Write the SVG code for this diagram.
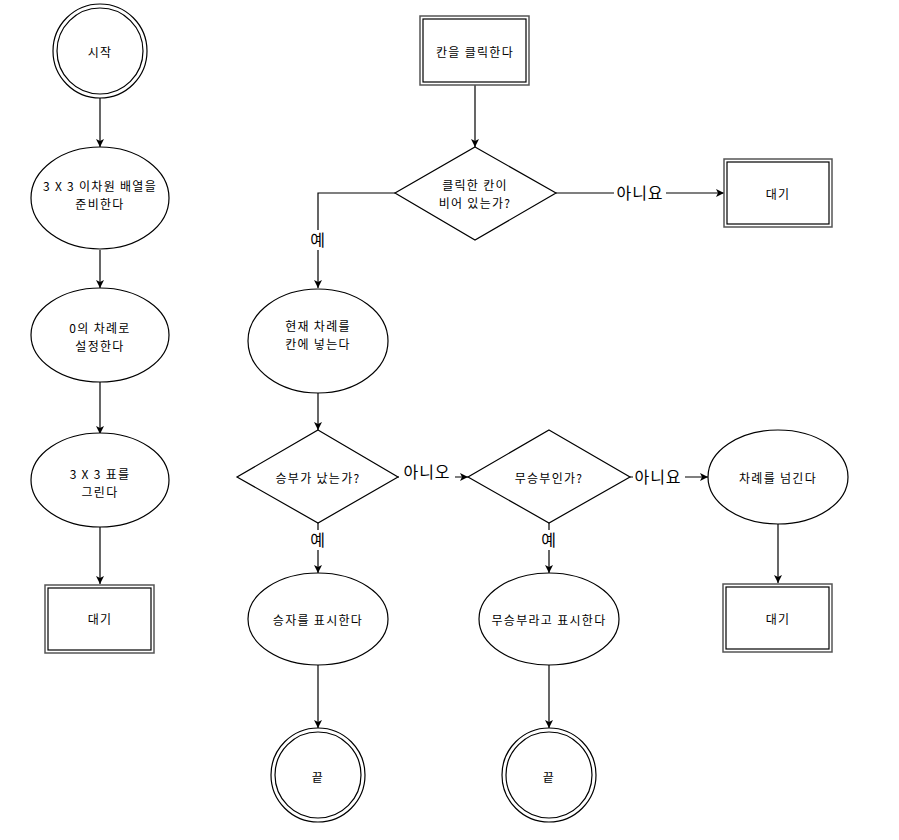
<svg xmlns="http://www.w3.org/2000/svg" width="899" height="840" viewBox="0 0 899 840">
<defs>
<style>
.n{fill:#fff;stroke:#000;stroke-width:1.2}
.o{fill:#fff;stroke:#555;stroke-width:1.5}
.e{fill:none;stroke:#000;stroke-width:1.2;marker-end:url(#ah)}
.t{font-family:"Noto Sans CJK KR","Liberation Sans",sans-serif;font-size:12px;letter-spacing:1.3px;fill:#000;text-anchor:middle;dominant-baseline:central}
.l{font-family:"Noto Sans CJK KR","Liberation Sans",sans-serif;font-size:16px;letter-spacing:1px;fill:#000;text-anchor:middle;dominant-baseline:central}
.bg{fill:#fff}
</style>
<marker id="ah" markerWidth="10" markerHeight="10" refX="9" refY="5" orient="auto" markerUnits="userSpaceOnUse">
<path d="M1,1 L9,5 L1,9 L3,5 Z" fill="#000"/>
</marker>
</defs>
<rect width="899" height="840" fill="#fff"/>
<g id="connectors">
<path class="e" d="M100,98 V147"/>
<path class="e" d="M100,250 V288"/>
<path class="e" d="M100,382 V434"/>
<path class="e" d="M100,527 V584"/>
<path class="e" d="M475,85 V147"/>
<path class="e" d="M556,193 H724"/>
<rect class="bg" x="614" y="183" width="52" height="20"/>
<text class="l" x="640" y="192">아니요</text>
<path class="e" d="M395,193 H318 V288"/>
<rect class="bg" x="308" y="230" width="20" height="20"/>
<text class="l" x="318" y="239">예</text>
<path class="e" d="M318,393 V430"/>
<path class="e" d="M398,477 H468"/>
<rect class="bg" x="399" y="462" width="56" height="20"/>
<text class="l" x="427" y="471">아니오</text>
<path class="e" d="M630,477 H708"/>
<rect class="bg" x="633" y="467" width="52" height="20"/>
<text class="l" x="658" y="476">아니요</text>
<path class="e" d="M778,523 V583"/>
<path class="e" d="M318,523 V573"/>
<rect class="bg" x="308" y="530" width="20" height="20"/>
<text class="l" x="318" y="539">예</text>
<path class="e" d="M549,523 V573"/>
<rect class="bg" x="539" y="530" width="20" height="20"/>
<text class="l" x="549" y="539">예</text>
<path class="e" d="M318,665 V728"/>
<path class="e" d="M549,665 V728"/>
</g>
<g id="start">
<circle class="n" cx="100" cy="51" r="47"/>
<circle class="n" cx="100" cy="51" r="43"/>
<text class="t" x="100" y="51">시작</text>
</g>
<g id="prepare">
<ellipse class="n" cx="100" cy="198" rx="69" ry="51"/>
<text class="t" x="100" y="185">3  X 3 이차원 배열을</text>
<text class="t" x="100" y="203">준비한다</text>
</g>
<g id="setturn">
<ellipse class="n" cx="100" cy="335" rx="69" ry="47"/>
<text class="t" x="100" y="327">0의 차례로</text>
<text class="t" x="100" y="345">설정한다</text>
</g>
<g id="drawtable">
<ellipse class="n" cx="100" cy="480" rx="69" ry="47"/>
<text class="t" x="100" y="473">3 X 3  표를</text>
<text class="t" x="100" y="491">그린다</text>
</g>
<g id="wait1">
<rect class="o" x="45" y="585" width="109" height="68"/>
<rect class="n" x="48" y="588" width="103" height="62"/>
<text class="t" x="100" y="618">대기</text>
</g>
<g id="click">
<rect class="o" x="420" y="16" width="109" height="69"/>
<rect class="n" x="423" y="19" width="103" height="63"/>
<text class="t" x="475" y="51">칸을 클릭한다</text>
</g>
<g id="isempty">
<polygon class="n" points="475,147 556,193 475,240 395,193"/>
<text class="t" x="475" y="184">클릭한 칸이</text>
<text class="t" x="475" y="202">비어 있는가?</text>
</g>
<g id="wait2">
<rect class="o" x="724" y="159" width="108" height="68"/>
<rect class="n" x="727" y="162" width="102" height="62"/>
<text class="t" x="778" y="193">대기</text>
</g>
<g id="place">
<ellipse class="n" cx="318" cy="341" rx="70" ry="52"/>
<text class="t" x="318" y="325">현재 차례를</text>
<text class="t" x="318" y="343">칸에 넣는다</text>
</g>
<g id="won">
<polygon class="n" points="318,430 398,477 318,523 237,477"/>
<text class="t" x="318" y="477">승부가 났는가?</text>
</g>
<g id="draw">
<polygon class="n" points="549,430 630,477 549,523 468,477"/>
<text class="t" x="549" y="477">무승부인가?</text>
</g>
<g id="nextturn">
<ellipse class="n" cx="778" cy="477" rx="70" ry="47"/>
<text class="t" x="778" y="477">차례를 넘긴다</text>
</g>
<g id="wait3">
<rect class="o" x="723" y="584" width="109" height="68"/>
<rect class="n" x="726" y="587" width="103" height="62"/>
<text class="t" x="778" y="618">대기</text>
</g>
<g id="showwinner">
<ellipse class="n" cx="318" cy="619" rx="70" ry="46"/>
<text class="t" x="318" y="619">승자를 표시한다</text>
</g>
<g id="showdraw">
<ellipse class="n" cx="549" cy="619" rx="70" ry="46"/>
<text class="t" x="549" y="619">무승부라고 표시한다</text>
</g>
<g id="end1">
<circle class="n" cx="318" cy="775" r="47"/>
<circle class="n" cx="318" cy="775" r="43"/>
<text class="t" x="318" y="776">끝</text>
</g>
<g id="end2">
<circle class="n" cx="549" cy="775" r="47"/>
<circle class="n" cx="549" cy="775" r="43"/>
<text class="t" x="549" y="776">끝</text>
</g>
</svg>
